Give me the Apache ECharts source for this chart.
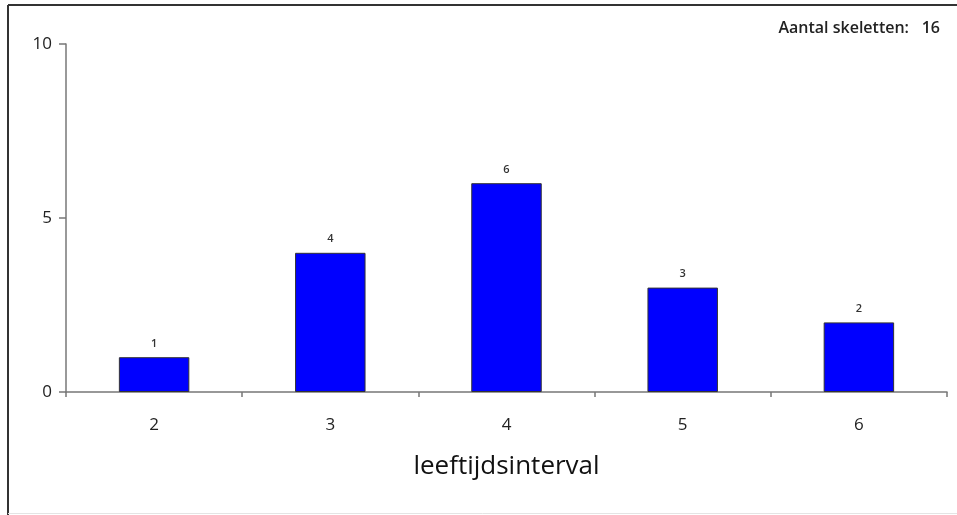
<!DOCTYPE html>
<html>
<head>
<meta charset="utf-8">
<script src="https://cdn.jsdelivr.net/npm/echarts@6/dist/echarts.min.js"></script>
<style>
  html, body { margin: 0; padding: 0; background: #fff; }
  #chart { width: 957px; height: 515px; }
</style>
</head>
<body>
<div id="chart"></div>
<script>
const categories = ['2', '3', '4', '5', '6']
const counts = [1, 4, 6, 3, 2]
const yTicks = [0, 5, 10]
const totalLabel = 'Aantal skeletten:'
const totalValue = '16'

const chart = echarts.init(document.getElementById('chart'))
const font = '"Open Sans", "Noto Sans", sans-serif'

const option = {
  backgroundColor: '#fff',
  animation: false,
  textStyle: { fontFamily: font },
  graphic: [
    // frame: left and top edges darker, faint bottom line
    { type: 'line', shape: { x1: 8, y1: 5, x2: 957, y2: 5 }, style: { stroke: '#333', lineWidth: 2 } },
    { type: 'line', shape: { x1: 8, y1: 5, x2: 8, y2: 515 }, style: { stroke: '#333', lineWidth: 2 } },
    { type: 'line', shape: { x1: 8, y1: 513.5, x2: 957, y2: 513.5 }, style: { stroke: '#e4e4e4', lineWidth: 1 } },
    {
      type: 'text',
      right: 48,
      top: 20,
      style: { text: totalLabel, fontFamily: font, fontSize: 16, fontWeight: 600, fill: '#222' }
    },
    {
      type: 'text',
      right: 17,
      top: 20,
      style: { text: totalValue, fontFamily: font, fontSize: 16, fontWeight: 600, fill: '#222' }
    }
  ],
  grid: {
    left: 66,
    right: 10,
    top: 44,
    bottom: 123
  },
  xAxis: {
    type: 'category',
    data: categories,
    name: 'leeftijdsinterval',
    nameLocation: 'middle',
    nameGap: 62,
    nameTextStyle: { fontSize: 26, color: '#111', fontFamily: font },
    axisLine: { lineStyle: { color: '#777', width: 1.5 } },
    axisTick: { show: true, length: 5, inside: false, lineStyle: { color: '#777', width: 1.5 } },
    axisLabel: { fontSize: 17, color: '#222', margin: 25 },
    splitLine: { show: false }
  },
  yAxis: {
    type: 'value',
    min: yTicks[0],
    max: yTicks[yTicks.length - 1],
    interval: 5,
    axisLine: { show: true, lineStyle: { color: '#777', width: 1.5 } },
    axisTick: { show: true, length: 7, lineStyle: { color: '#777', width: 1.5 } },
    axisLabel: { fontSize: 17, color: '#222', margin: 14 },
    splitLine: { show: false }
  },
  series: [
    {
      type: 'bar',
      data: counts,
      barWidth: '40%',
      itemStyle: {
        color: '#0000ff',
        borderColor: '#333',
        borderWidth: 1
      },
      label: {
        show: true,
        position: 'top',
        distance: 8,
        fontSize: 11,
        fontWeight: 600,
        color: '#333'
      }
    }
  ]
}

chart.setOption(option)
</script>
</body>
</html>
